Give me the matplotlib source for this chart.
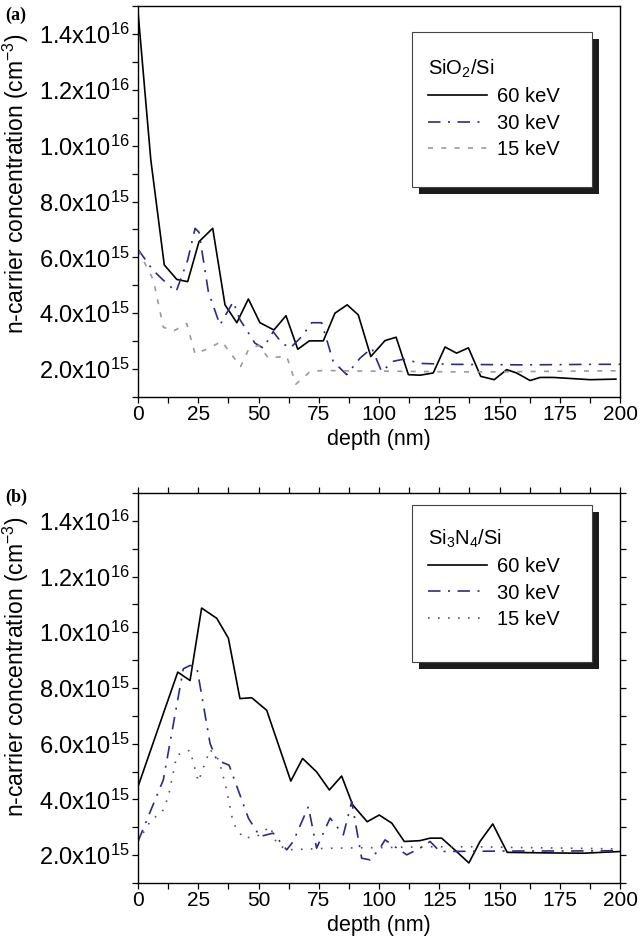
import matplotlib
matplotlib.use("Agg")
import matplotlib.pyplot as plt
import numpy as np
from matplotlib.patches import Rectangle
from matplotlib.ticker import FuncFormatter, MultipleLocator

plt.rcParams['font.family'] = ['Liberation Sans', 'DejaVu Sans']
plt.rcParams['mathtext.fontset'] = 'custom'
plt.rcParams['mathtext.rm'] = 'Liberation Sans'
plt.rcParams['mathtext.it'] = 'Liberation Sans:italic'
plt.rcParams['mathtext.bf'] = 'Liberation Sans:bold'

# concentrations in units of 1e15 cm^-3
# (a) SiO2/Si
depth_a60 = [0, 5.3, 10.9, 16.1, 20.6, 25.3, 31.0, 36.1, 41.0, 45.8, 50.6, 56.4, 61.4, 66.3,
             71.1, 76.9, 81.7, 86.8, 91.4, 96.6, 102.5, 107.1, 112.2, 117.0, 122.5, 127.4,
             132.2, 137.1, 142.2, 147.8, 153.0, 157.1, 162.7, 166.8, 172.4, 182.0, 187.6, 198.3]
conc_a60 = [14.8, 9.5, 5.73, 5.21, 5.13, 6.56, 7.04, 4.30, 3.66, 4.51, 3.66, 3.40, 3.91, 2.71,
            3.01, 3.01, 4.0, 4.3, 3.94, 2.45, 3.02, 3.14, 1.80, 1.78, 1.86, 2.79,
            2.57, 2.76, 1.74, 1.62, 1.98, 1.86, 1.59, 1.70, 1.70, 1.65, 1.62, 1.64]

depth_a30 = [0, 6.1, 10.9, 15.8, 20.6, 23.7, 25.3, 29.2, 34.0, 39.5, 42.3, 48.5, 52.0, 56.1,
             59.5, 63.1, 67.9, 72.1, 76.2, 81.0, 86.6, 92.1, 97.0, 101.1, 106.0, 110.0,
             118.0, 130, 145, 160, 175, 190, 200]
conc_a30 = [6.29, 5.55, 5.15, 4.77, 5.9, 7.04, 6.9, 4.77, 3.58, 4.41, 3.77, 2.93, 2.75, 3.34,
            2.95, 2.75, 3.16, 3.66, 3.66, 2.27, 1.80, 2.39, 2.75, 1.91, 2.28, 2.35,
            2.2, 2.17, 2.16, 2.15, 2.16, 2.17, 2.17]

depth_a15 = [0, 6.4, 10.5, 14.7, 20.2, 23.7, 29.2, 34.7, 42.6, 45.8, 50.0, 54.1, 61.7, 65.5,
             71.4, 76.9, 90, 110, 130, 150, 170, 185, 200]
conc_a15 = [6.26, 5.19, 3.5, 3.36, 3.63, 2.54, 2.74, 2.99, 2.09, 2.69, 2.85, 2.4, 2.46, 1.46,
            1.91, 1.95, 1.93, 1.92, 1.9, 1.9, 1.92, 1.93, 1.94]

# (b) Si3N4/Si
depth_b60 = [0, 10.5, 16.5, 21.6, 26.4, 32.7, 37.5, 42.3, 47.2, 53.4, 63.4, 68.3, 74.1, 79.4,
             84.5, 89.1, 95.1, 100.1, 105.3, 110.5, 117.0, 121.2, 126.0, 132.2, 137.3, 141.9,
             147.2, 153.2, 170, 185, 200]
conc_b60 = [4.46, 7.08, 8.57, 8.27, 10.87, 10.5, 9.79, 7.62, 7.65, 7.20, 4.66, 5.47, 4.99, 4.34,
            4.84, 3.80, 3.20, 3.44, 3.15, 2.49, 2.52, 2.61, 2.61, 2.13, 1.72, 2.49,
            3.12, 2.10, 2.08, 2.07, 2.13]

depth_b30 = [0, 10.5, 18.8, 21.6, 24.4, 29.9, 32.7, 37.8, 45.8, 50.6, 56.1, 61.7, 64.4, 70.7,
             74.1, 79.7, 85.2, 88.7, 92.8, 96.3, 100.4, 102.5, 111.5, 117.0, 121.2, 125.3,
             140, 160, 180, 200]
conc_b30 = [2.49, 4.70, 8.69, 8.81, 8.75, 6.01, 5.41, 5.23, 3.33, 2.67, 2.79, 2.19, 2.49, 3.74,
            2.25, 3.33, 2.73, 3.92, 1.89, 1.83, 2.25, 2.55, 2.01, 2.25, 2.49, 2.13,
            2.14, 2.15, 2.15, 2.16]

depth_b15 = [0, 5.7, 9.8, 12.6, 16.1, 21.6, 25.0, 29.9, 33.6, 36.8, 39.5, 43.7, 49.3, 54.8,
             57.5, 61.7, 80, 100, 120, 140, 160, 180, 200]
conc_b15 = [2.49, 3.3, 3.5, 4.1, 5.59, 5.77, 4.64, 5.79, 5.41, 4.34, 3.15, 2.61, 2.67, 3.03,
            2.43, 2.19, 2.25, 2.27, 2.3, 2.3, 2.27, 2.25, 2.22]

labels = ['60 keV', '30 keV', '15 keV']
titles = ['SiO$_2$/Si', 'Si$_3$N$_4$/Si']
navy = '#2d2a86'


def sci_fmt(v, pos):
    if v <= 0:
        return ''
    e = int(np.floor(np.log10(v) + 1e-9))
    m = round(v / 10**e, 1)
    return f'{m:.1f}x10$^{{{e}}}$'


fig = plt.figure(figsize=(6.4, 9.51), dpi=100)
W, H = 640, 951
ax_a = fig.add_axes([138 / W, 1 - 397 / H, 482 / W, 391 / H])
ax_b = fig.add_axes([138 / W, 1 - 883 / H, 482 / W, 390 / H])

scale = 1e15
ax_a.plot(depth_a60, np.array(conc_a60) * scale, color='black', lw=1.2, label=labels[0])
ax_a.plot(depth_a30, np.array(conc_a30) * scale, color=navy, lw=1.2,
          dashes=(7.5, 4.5, 1.2, 4.5), label=labels[1])
ax_a.plot(depth_a15, np.array(conc_a15) * scale, color='#9a9a9a', lw=1.2,
          dashes=(3, 5), label=labels[2])

ax_b.plot(depth_b60, np.array(conc_b60) * scale, color='black', lw=1.2, label=labels[0])
ax_b.plot(depth_b30, np.array(conc_b30) * scale, color=navy, lw=1.2,
          dashes=(7.5, 4.5, 1.2, 4.5), label=labels[1])
ax_b.plot(depth_b15, np.array(conc_b15) * scale, color='#555555', lw=1.2,
          dashes=(1, 5), label=labels[2])

for ax, title, ylab_y, full in [(ax_a, titles[0], 0.545, False),
                                (ax_b, titles[1], 0.554, True)]:
    ax.set_xlim(0, 200)
    ax.set_ylim(1e15, 1.5e16)
    ax.xaxis.set_major_locator(MultipleLocator(25))
    ax.xaxis.set_minor_locator(MultipleLocator(12.5))
    ax.yaxis.set_major_locator(MultipleLocator(2e15))
    ax.yaxis.set_minor_locator(MultipleLocator(1e15))
    ax.yaxis.set_major_formatter(FuncFormatter(sci_fmt))
    ax.tick_params(which='both', direction='out', length=4, width=0.9,
                   top=full, right=full)
    ax.tick_params(axis='x', labelsize=15, pad=2)
    ax.tick_params(axis='y', labelsize=17, pad=2)
    for s in ax.spines.values():
        s.set_linewidth(1.0)
    ax.set_xlabel('depth (nm)', fontsize=15.5, labelpad=3)
    ax.set_ylabel('n-carrier concentration (cm$^{-3}$)', fontsize=16.5)
    ax.yaxis.set_label_coords(-0.222, ylab_y)

    # legend box with drop shadow
    if full:
        bx, by, bw, bh = 0.568, 0.567, 0.374, 0.403
        anchor = (0.602, 0.912)
    else:
        bx, by, bw, bh = 0.568, 0.537, 0.374, 0.397
        anchor = (0.602, 0.868)
    ax.add_patch(Rectangle((bx + 7 / 482, by - 7 / 391), bw, bh, transform=ax.transAxes,
                           facecolor='#1c1c1e', edgecolor='none', zorder=3, clip_on=False))
    ax.add_patch(Rectangle((bx, by), bw, bh, transform=ax.transAxes,
                           facecolor='white', edgecolor='#444444', lw=0.8, zorder=3.5,
                           clip_on=False))
    leg = ax.legend(loc='upper left', bbox_to_anchor=anchor, frameon=False,
                    title=title, alignment='left', fontsize=14.5, title_fontsize=14.5,
                    handlelength=2.9, handletextpad=0.5, labelspacing=0.37,
                    borderpad=0, borderaxespad=0)
    leg.set_zorder(5)

fig.text(5 / W, 1 - 15 / H, '(a)', fontsize=13, fontweight='bold',
         family='Liberation Serif', va='center')
fig.text(5 / W, 1 - 497 / H, '(b)', fontsize=13, fontweight='bold',
         family='Liberation Serif', va='center')

fig.savefig('out.png', dpi=100)
